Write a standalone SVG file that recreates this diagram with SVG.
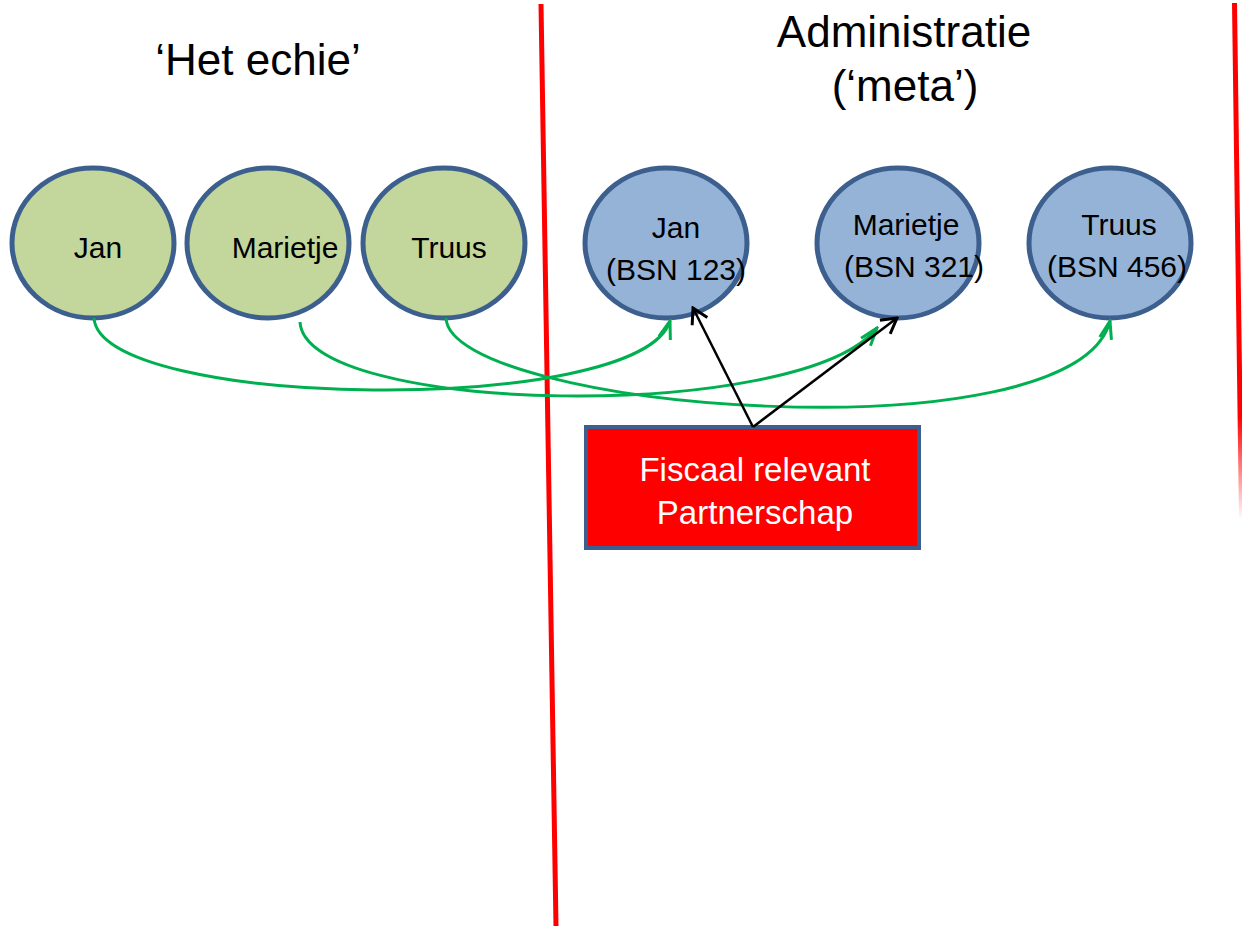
<svg xmlns="http://www.w3.org/2000/svg" width="1242" height="926" viewBox="0 0 1242 926">
  <style>
    text { font-family: "Liberation Sans", Arial, sans-serif; fill: #000; }
    .title { font-size: 44px; }
    .lbl { font-size: 30px; }
    .box { font-size: 33px; fill: #fff; }
    .real { fill: #c3d69b; stroke: #3c5f8e; stroke-width: 5; }
    .admin { fill: #95b3d7; stroke: #3c5f8e; stroke-width: 5; }
    .g { fill: none; stroke: #00b050; stroke-width: 3; marker-end: url(#ga); }
    .k { fill: none; stroke: #000; stroke-width: 2.5; marker-end: url(#ka); }
  </style>
  <defs>
    <marker id="ga" viewBox="-20 -9 22 18" markerWidth="22" markerHeight="18" refX="0" refY="0" orient="auto" markerUnits="userSpaceOnUse">
      <path d="M-18,-6 L0,0 L-18,6" fill="none" stroke="#00b050" stroke-width="3"/>
    </marker>
    <marker id="ka" viewBox="-18 -10 20 20" markerWidth="20" markerHeight="20" refX="0" refY="0" orient="auto" markerUnits="userSpaceOnUse">
      <path d="M-15,-8.5 L0,0 L-15,8.5" fill="none" stroke="#000" stroke-width="3"/>
    </marker>
    <linearGradient id="fade" x1="0" y1="0" x2="0" y2="1">
      <stop offset="0" stop-color="#ff0000" stop-opacity="1"/>
      <stop offset="0.8" stop-color="#ff0000" stop-opacity="1"/>
      <stop offset="1" stop-color="#ff0000" stop-opacity="0"/>
    </linearGradient>
  </defs>

  <g id="dividers">
    <line x1="541" y1="4" x2="556" y2="926" stroke="#ff0000" stroke-width="5"/>
    <polygon points="1232,3 1237,3 1244,520 1239,520" fill="url(#fade)"/>
  </g>

  <g id="title-left">
    <text class="title" x="258" y="75" text-anchor="middle">‘Het echie’</text>
  </g>
  <g id="title-right">
    <text class="title" x="904" y="47" text-anchor="middle">Administratie</text>
    <text class="title" x="905" y="101" text-anchor="middle">(‘meta’)</text>
  </g>

  <g id="jan-real">
    <ellipse class="real" cx="93" cy="243" rx="81" ry="75"/>
    <text class="lbl" x="98" y="258" text-anchor="middle">Jan</text>
  </g>
  <g id="marietje-real">
    <ellipse class="real" cx="268" cy="243" rx="81" ry="75"/>
    <text class="lbl" x="285" y="258" text-anchor="middle">Marietje</text>
  </g>
  <g id="truus-real">
    <ellipse class="real" cx="444" cy="243" rx="81" ry="75"/>
    <text class="lbl" x="449" y="258" text-anchor="middle">Truus</text>
  </g>

  <g id="jan-admin">
    <ellipse class="admin" cx="666" cy="243" rx="81" ry="75"/>
    <text class="lbl" x="676" y="238" text-anchor="middle">Jan</text>
    <text class="lbl" x="676" y="280" text-anchor="middle">(BSN 123)</text>
  </g>
  <g id="marietje-admin">
    <ellipse class="admin" cx="898" cy="243" rx="81" ry="75"/>
    <text class="lbl" x="906" y="235" text-anchor="middle">Marietje</text>
    <text class="lbl" x="914" y="277" text-anchor="middle">(BSN 321)</text>
  </g>
  <g id="truus-admin">
    <ellipse class="admin" cx="1110" cy="243" rx="81" ry="75"/>
    <text class="lbl" x="1119" y="235" text-anchor="middle">Truus</text>
    <text class="lbl" x="1117" y="277" text-anchor="middle">(BSN 456)</text>
  </g>

  <g id="partnerschap">
    <rect x="586" y="427" width="333" height="121" fill="#ff0000" stroke="#3c5f8e" stroke-width="4"/>
    <text class="box" x="755" y="481" text-anchor="middle">Fiscaal relevant</text>
    <text class="box" x="755" y="524" text-anchor="middle">Partnerschap</text>
  </g>

  <g id="connectors">
    <path class="g" d="M94,318 C100,410 640,417 670,321"/>
    <path class="g" d="M300,322 C305,415 800,424 877,328"/>
    <path class="g" d="M446,318 C450,410 1075,460 1110,321"/>
    <path class="k" d="M753,427 L693,308"/>
    <path class="k" d="M753,427 L897,318"/>
  </g>
</svg>
